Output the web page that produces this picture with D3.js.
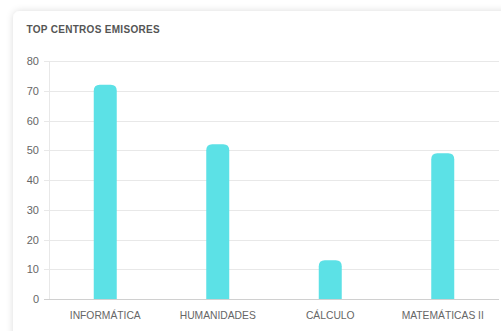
<!DOCTYPE html>
<html><head><meta charset="utf-8">
<script src="https://cdn.jsdelivr.net/npm/d3@7"></script>
<style>
html,body{margin:0;padding:0;background:#fff;width:501px;height:331px;overflow:hidden;}
</style></head>
<body>
<script>
const categories = ["INFORMÁTICA", "HUMANIDADES", "CÁLCULO", "MATEMÁTICAS II"];
const values = [72, 52, 13, 49];
const yTicks = [0, 10, 20, 30, 40, 50, 60, 70, 80];
const title = "TOP CENTROS EMISORES";

const W = 501, H = 331;
const svg = d3.select("body").append("svg").attr("width", W).attr("height", H);
const defs = svg.append("defs");
const f = defs.append("filter").attr("id","sh").attr("x","-10%").attr("y","-10%").attr("width","130%").attr("height","130%");
f.append("feDropShadow").attr("dx",0).attr("dy",0).attr("stdDeviation",3.5).attr("flood-color","#000").attr("flood-opacity",0.14);

svg.append("rect").attr("x",13).attr("y",11).attr("width",520).attr("height",360)
  .attr("rx",7).attr("fill","#fff").attr("filter","url(#sh)");

svg.append("text").attr("x",26.5).attr("y",33).text(title)
  .attr("font-family","'Liberation Sans', Arial, sans-serif").attr("font-weight",700)
  .attr("font-size",10).attr("fill","#555").attr("letter-spacing",0.3);

const m = {left:49, right:499, top:61, bottom:299};
const x = d3.scaleBand().domain(categories).range([m.left, m.right]);
const y = d3.scaleLinear().domain([0, 80]).range([m.bottom, m.top]);

const g = svg.append("g");
g.selectAll("line.grid").data(yTicks).join("line")
  .attr("x1", m.left - 5).attr("x2", m.right)
  .attr("y1", d => Math.round(y(d)) + 0.5).attr("y2", d => Math.round(y(d)) + 0.5)
  .attr("stroke", d => d === 0 ? "#d0d0d0" : "#e8e8e8").attr("stroke-width", 1);
g.append("line").attr("x1", m.left + 0.5).attr("x2", m.left + 0.5)
  .attr("y1", m.top).attr("y2", m.bottom).attr("stroke", "#e8e8e8");

g.selectAll("text.yt").data(yTicks).join("text")
  .attr("x", 39).attr("y", d => y(d) + 4)
  .attr("text-anchor", "end").attr("font-family", "'Liberation Sans', Arial, sans-serif")
  .attr("font-size", 11).attr("fill", "#666").text(d => d);

const bw = 23;
const r = 6;
function barPath(x0, y0, w, h) {
  const rr = Math.min(r, h/2, w/2);
  return `M${x0},${y0+h}V${y0+rr}Q${x0},${y0} ${x0+rr},${y0}H${x0+w-rr}Q${x0+w},${y0} ${x0+w},${y0+rr}V${y0+h}Z`;
}
g.selectAll("path.bar").data(categories).join("path")
  .attr("d", (c, i) => {
    const cx = x(c) + x.bandwidth()/2;
    const top = y(values[i]);
    return barPath(cx - bw/2, top, bw, y(0) - top);
  })
  .attr("fill", "#5ce1e6");

g.selectAll("text.xt").data(categories).join("text")
  .attr("x", c => x(c) + x.bandwidth()/2).attr("y", 319)
  .attr("text-anchor", "middle").attr("font-family", "'Liberation Sans', Arial, sans-serif")
  .attr("font-size", 10.3).attr("fill", "#666").text(c => c);
</script>
</body></html>
